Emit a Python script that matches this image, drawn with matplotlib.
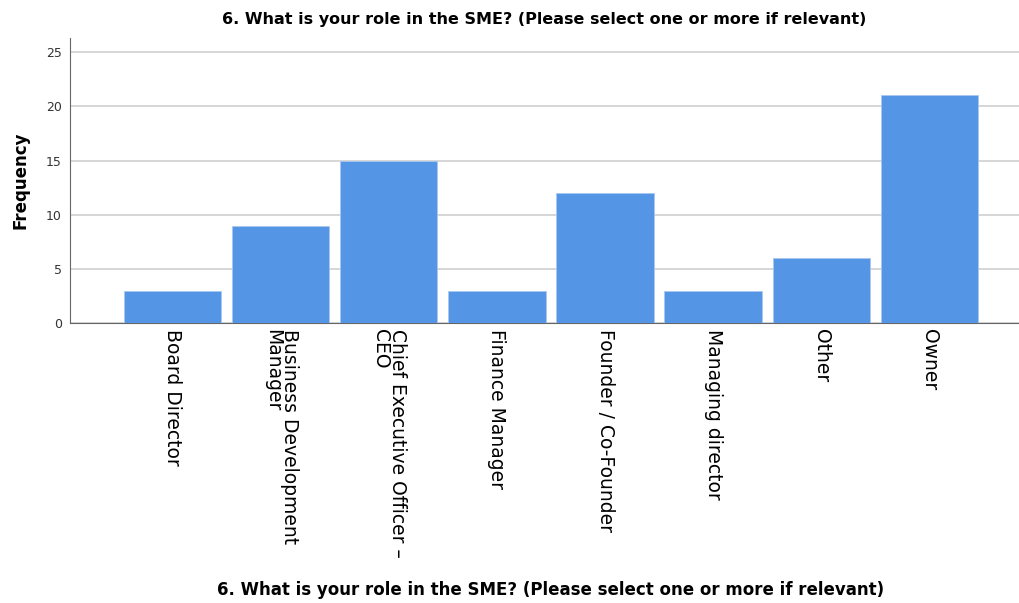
import matplotlib
matplotlib.use("Agg")
import matplotlib.pyplot as plt

# Datos
roles = ["Board Director", "Business Development\nManager", "Chief Executive Officer \u2013\nCEO",
         "Finance Manager", "Founder / Co-Founder", "Managing director", "Other", "Owner"]
frecuencia = [3, 9, 15, 3, 12, 3, 6, 21]
yticks = [0, 5, 10, 15, 20, 25]

titulo = "6. What is your role in the SME? (Please select one or more if relevant)"

plt.rcParams["font.family"] = ["DejaVu Sans"]

fig = plt.figure(figsize=(10.19, 6.03), dpi=100)
ax = fig.add_axes([0.0687, 0.464, 0.9313, 0.473])

x = range(len(roles))
ax.bar(x, frecuencia, width=0.9, color="#5595e5", edgecolor="#a9c8f0", linewidth=0.6, zorder=3)

ax.set_xlim(-0.95, 7.83)
ax.set_ylim(0, 26.3)
ax.set_yticks(yticks)
ax.set_xticks(list(x))
ax.set_xticklabels(roles, rotation=270, va="top", ha="center", fontsize=13.5,
                   linespacing=0.85, multialignment="left")
ax.tick_params(axis="both", length=0)
ax.tick_params(axis="y", labelsize=9, colors="#333333", pad=6)
ax.tick_params(axis="x", pad=4)
ax.grid(axis="y", color="#cfcfcf", linewidth=1.2, zorder=0)

for s in ["top", "right"]:
    ax.spines[s].set_visible(False)
ax.spines["left"].set_color("#666666")
ax.spines["bottom"].set_color("#666666")

ax.set_ylabel("Frequency", fontsize=12, fontweight="bold", labelpad=12)
ax.set_title(titulo, fontsize=11.5, fontweight="bold", pad=10)
fig.text(0.54, 0.006, titulo, ha="center", va="bottom", fontsize=12, fontweight="bold")

fig.savefig("out.png", dpi=100)
